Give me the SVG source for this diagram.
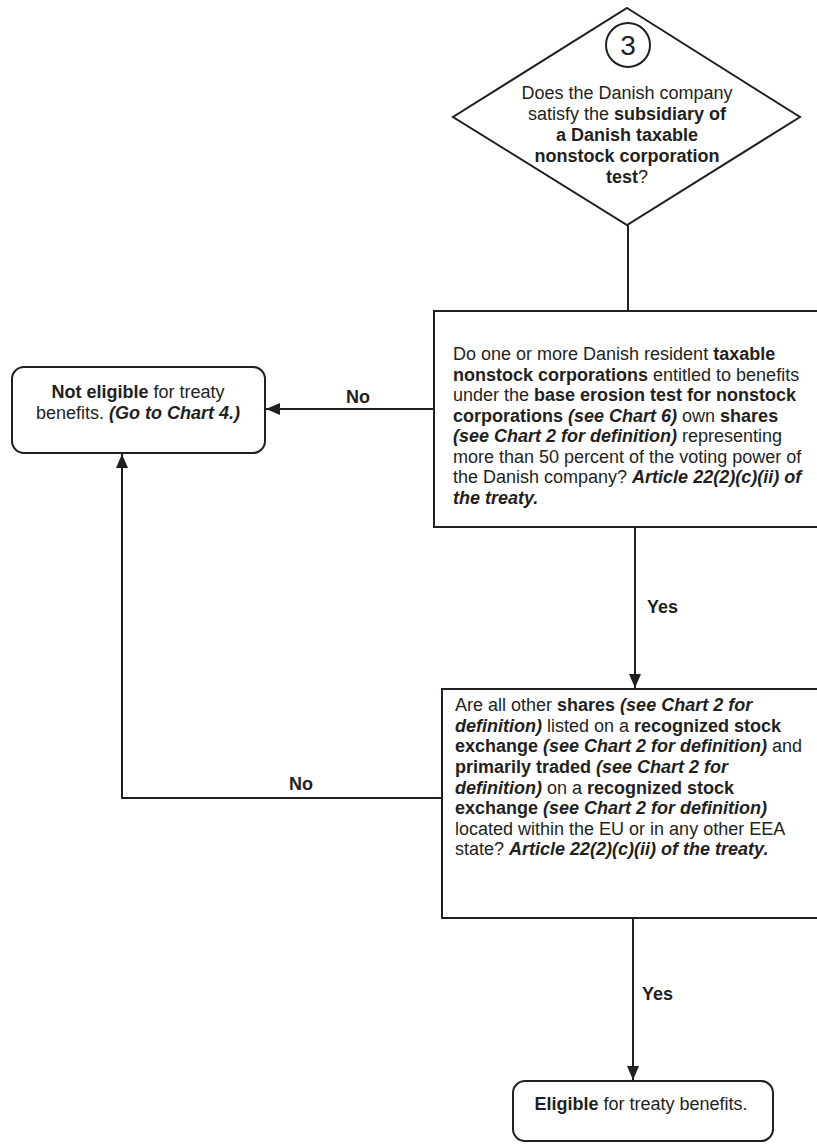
<svg xmlns="http://www.w3.org/2000/svg" width="817" height="1144" viewBox="0 0 817 1144">
<style>
  .shape { fill: #ffffff; stroke: #231f20; stroke-width: 2; }
  .conn { fill: none; stroke: #231f20; stroke-width: 2; }
  text { font-family: "Liberation Sans", Arial, sans-serif; font-size: 18px; fill: #231f20; }
  .b { font-weight: bold; }
  .bi { font-weight: bold; font-style: italic; }
  .lbl { font-weight: bold; }
  .num { font-size: 28px; font-weight: normal; }
</style>
<defs>
  <marker id="arrow" markerUnits="userSpaceOnUse" markerWidth="14" markerHeight="14" viewBox="0 0 14 14" refX="14" refY="7" orient="auto">
    <path d="M0,1 L14,7 L0,13 Z" fill="#231f20"/>
  </marker>
</defs>

<g id="connectors">
  <line class="conn" x1="628" y1="225" x2="628" y2="311"/>
  <line class="conn" x1="434" y1="409" x2="266" y2="409" marker-end="url(#arrow)"/>
  <line class="conn" x1="635" y1="527" x2="635" y2="688" marker-end="url(#arrow)"/>
  <polyline class="conn" points="442,798 122,798 122,454" marker-end="url(#arrow)"/>
  <line class="conn" x1="633" y1="918" x2="633" y2="1080" marker-end="url(#arrow)"/>
  <text class="lbl" x="358" y="403" text-anchor="middle">No</text>
  <text class="lbl" x="647" y="613">Yes</text>
  <text class="lbl" x="301" y="790" text-anchor="middle">No</text>
  <text class="lbl" x="642" y="1000">Yes</text>
</g>

<g id="node-start">
  <polygon class="shape" points="627,8 800,117 627,225 453,117"/>
  <circle class="shape" cx="628" cy="45" r="22"/>
  <text class="num" x="628" y="55" text-anchor="middle">3</text>
  <text x="627" y="99" text-anchor="middle">Does the Danish company</text>
  <text x="627" y="120" text-anchor="middle">satisfy the <tspan class="b">subsidiary of</tspan></text>
  <text x="627" y="141" text-anchor="middle" class="b">a Danish taxable</text>
  <text x="627" y="162" text-anchor="middle" class="b">nonstock corporation</text>
  <text x="627" y="183" text-anchor="middle"><tspan class="b">test</tspan>?</text>
</g>

<g id="node-q1">
  <rect class="shape" x="434" y="311" width="400" height="216"/>
  <text x="453" y="360">Do one or more Danish resident <tspan class="b">taxable</tspan></text>
  <text x="453" y="380.5"><tspan class="b">nonstock corporations</tspan> entitled to benefits</text>
  <text x="453" y="401">under the <tspan class="b">base erosion test for nonstock</tspan></text>
  <text x="453" y="421.5"><tspan class="b">corporations </tspan><tspan class="bi">(see Chart 6)</tspan> own <tspan class="b">shares</tspan></text>
  <text x="453" y="442"><tspan class="bi">(see Chart 2 for definition)</tspan> representing</text>
  <text x="453" y="462.5">more than 50 percent of the voting power of</text>
  <text x="453" y="483">the Danish company? <tspan class="bi">Article 22(2)(c)(ii) of</tspan></text>
  <text x="453" y="503.5" class="bi">the treaty.</text>
</g>

<g id="node-not-eligible">
  <rect class="shape" x="12" y="367" width="253" height="86" rx="12" ry="12"/>
  <text x="138" y="398" text-anchor="middle"><tspan class="b">Not eligible</tspan> for treaty</text>
  <text x="138" y="419" text-anchor="middle">benefits. <tspan class="bi">(Go to Chart 4.)</tspan></text>
</g>

<g id="node-q2">
  <rect class="shape" x="442" y="689" width="400" height="229"/>
  <text x="455" y="711">Are all other <tspan class="b">shares </tspan><tspan class="bi">(see Chart 2 for</tspan></text>
  <text x="455" y="731.5"><tspan class="bi">definition)</tspan> listed on a <tspan class="b">recognized stock</tspan></text>
  <text x="455" y="752"><tspan class="b">exchange </tspan><tspan class="bi">(see Chart 2 for definition)</tspan> and</text>
  <text x="455" y="773"><tspan class="b">primarily traded </tspan><tspan class="bi">(see Chart 2 for</tspan></text>
  <text x="455" y="793.5"><tspan class="bi">definition)</tspan> on a <tspan class="b">recognized stock</tspan></text>
  <text x="455" y="814"><tspan class="b">exchange </tspan><tspan class="bi">(see Chart 2 for definition)</tspan></text>
  <text x="455" y="834.5">located within the EU or in any other EEA</text>
  <text x="455" y="855">state? <tspan class="bi">Article 22(2)(c)(ii) of the treaty.</tspan></text>
</g>

<g id="node-eligible">
  <rect class="shape" x="513" y="1081" width="260" height="60" rx="12" ry="12"/>
  <text x="641" y="1110" text-anchor="middle"><tspan class="b">Eligible</tspan> for treaty benefits.</text>
</g>
</svg>
